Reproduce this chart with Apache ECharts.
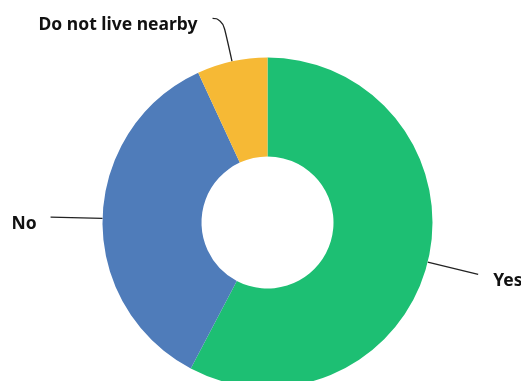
<!DOCTYPE html>
<html>
<head>
<meta charset="utf-8">
<script src="https://cdn.jsdelivr.net/npm/echarts@6/dist/echarts.min.js"></script>
<style>
  html, body { margin: 0; padding: 0; background: #ffffff; overflow: hidden; }
  #chart { width: 521px; height: 381px; }
</style>
</head>
<body>
<div id="chart"></div>
<script>
// Answers and their shares of respondents (%)
const categories = ['Yes', 'No', 'Do not live nearby'];
const shares = [57.7, 35.4, 6.9];
const colors = ['#1dbf73', '#4f7cba', '#f6b935'];

const chart = echarts.init(document.getElementById('chart'), null, { renderer: 'canvas' });

// Per-slice label leader lines
const leader = [
  { length: 52, length2: 0, smooth: false, distance: 15 },
  { length: 52, length2: 0, smooth: false, distance: 14 },
  { length: 44, length2: 10, smooth: 0.6, distance: 15 }
];

const data = categories.map((name, i) => ({
  name: name,
  value: shares[i],
  itemStyle: { color: colors[i] },
  labelLine: {
    length: leader[i].length,
    length2: leader[i].length2,
    smooth: leader[i].smooth
  },
  label: { distanceToLabelLine: leader[i].distance }
}));

chart.setOption({
  animation: false,
  series: [{
    type: 'pie',
    center: [267.5, 222.5],
    radius: [66, 165],
    startAngle: 90,
    clockwise: true,
    avoidLabelOverlap: false,
    data: data,
    label: {
      show: true,
      position: 'outside',
      formatter: '{b}',
      color: '#111111',
      fontFamily: 'Noto Sans',
      fontWeight: 'bold',
      fontSize: 17.5
    },
    // labels sit a little below the ends of their leader lines
    labelLayout: { dy: 7 },
    labelLine: {
      show: true,
      lineStyle: { color: '#222222', width: 1.3 }
    },
    itemStyle: { borderWidth: 0 },
    emphasis: { disabled: true }
  }]
});
</script>
</body>
</html>
